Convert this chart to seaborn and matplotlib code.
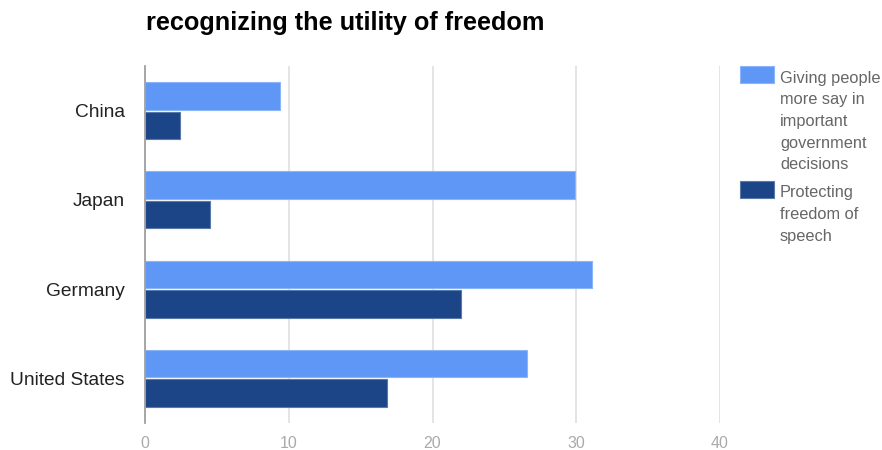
import textwrap
import matplotlib
matplotlib.use("Agg")
import matplotlib.pyplot as plt
from matplotlib.patches import Rectangle
import seaborn as sns
import pandas as pd

# ---- data ----
countries = ["China", "Japan", "Germany", "United States"]
series_names = ["Giving people more say in important government decisions",
                "Protecting freedom of speech"]
say_in_decisions = [9.4, 29.9, 31.1, 26.6]
freedom_of_speech = [2.4, 4.5, 22.0, 16.8]
x_ticks = [0, 10, 20, 30, 40]
title = "recognizing the utility of freedom"

colors = ["#5e97f6", "#1c4587"]
edges = ["#8cb4f8", "#5a78a8"]

df = pd.DataFrame({
    "country": countries * 2,
    "series": [series_names[0]] * len(countries) + [series_names[1]] * len(countries),
    "value": say_in_decisions + freedom_of_speech,
})

sns.set_theme(style="white")
plt.rcParams["font.family"] = ["Liberation Sans", "DejaVu Sans"]

W, H = 882, 450
fig = plt.figure(figsize=(W / 100, H / 100), dpi=100)
ax = fig.add_axes([145 / W, 1 - 423 / H, (720 - 145) / W, (423 - 66) / H])

sns.barplot(data=df, y="country", x="value", hue="series", orient="h",
            order=countries, hue_order=series_names, palette=colors,
            width=0.66, gap=0.06, ax=ax, legend=False, saturation=1)

for i, container in enumerate(ax.containers):
    for bar in container:
        bar.set_edgecolor(edges[i])
        bar.set_linewidth(0.8)

ax.set_xlim(0, 40)
ax.set_ylim(len(countries) - 0.5, -0.5)
ax.set_xticks(x_ticks)
ax.set_xticklabels([str(t) for t in x_ticks])
ax.xaxis.grid(True, color="#e2e2e2", linewidth=1.3)
ax.set_axisbelow(True)
for s in ["top", "right", "bottom"]:
    ax.spines[s].set_visible(False)
ax.spines["left"].set_color("#a0a0a0")
ax.spines["left"].set_linewidth(1.3)
ax.set_xlabel("")
ax.set_ylabel("")
ax.tick_params(axis="x", length=0, labelsize=11.5, labelcolor="#aaaaaa", pad=9)
ax.tick_params(axis="y", length=0, labelsize=13.8, labelcolor="#222222", pad=14.4)

fig.text(146 / W, 1 - 30 / H, title, fontsize=18.2, fontweight="bold",
         color="#000000", va="baseline", ha="left")

# legend (drawn manually so the swatch aligns with the first text line)
wrapped = [textwrap.wrap(series_names[0], 14), textwrap.wrap(series_names[1], 12)]
line_h = 21.7
top = 66
for i, lines in enumerate(wrapped):
    fig.patches.append(Rectangle((740 / W, 1 - (top + 17) / H), 34 / W, 17 / H,
                                 transform=fig.transFigure, facecolor=colors[i],
                                 edgecolor=edges[i], linewidth=0.8))
    for k, line in enumerate(lines):
        fig.text(780 / W, 1 - (top + 16.5 + k * line_h) / H, line, fontsize=11.8,
                 color="#666666", ha="left", va="baseline")
    top += len(lines) * line_h + 6.5

fig.savefig("out.png", dpi=100)
